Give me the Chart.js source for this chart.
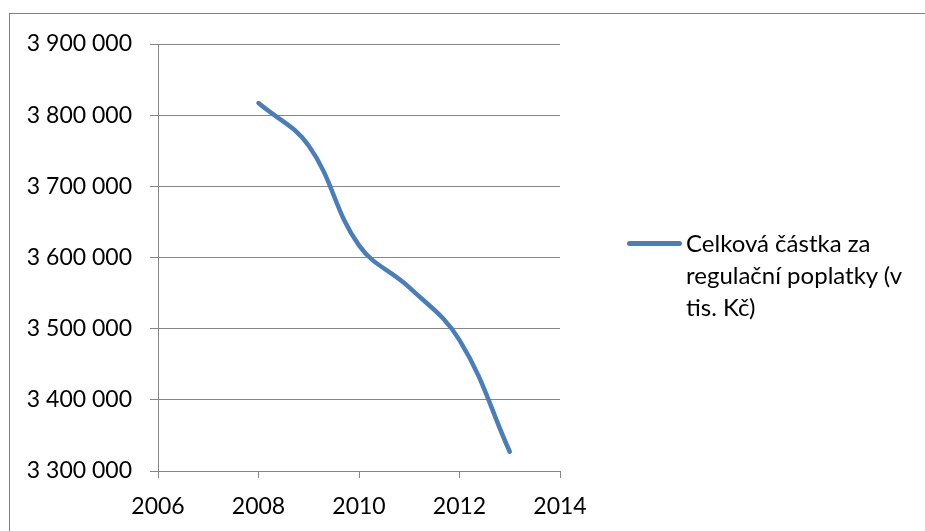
<!DOCTYPE html>
<html lang="cs">
<head>
    <meta charset="UTF-8">
    <title>Regulační poplatky</title>
    <style>
        body {
            margin: 0;
            background: #fff;
            font-family: Lato, sans-serif;
        }

        #wrap {
            position: relative;
            width: 925px;
            height: 531px;
            overflow: hidden;
        }

        #frame {
            position: absolute;
            left: 9px;
            top: 13px;
            width: 1000px;
            height: 1000px;
            border-left: 1px solid #808080;
            border-top: 1px solid #808080;
            box-sizing: border-box;
        }

        #legend {
            position: absolute;
            left: 627px;
            top: 227px;
            font-size: 24px;
            line-height: 32px;
            color: #000;
        }

        #legend .row {
            display: flex;
            align-items: center;
        }

        #legend .swatch {
            width: 55px;
            height: 5px;
            border-radius: 3px;
            margin-right: 4px;
        }

        #legend .indent {
            padding-left: 59px;
        }
    </style>
</head>
<body>
    <div id="wrap">
        <div id="frame"></div>
        <canvas id="feesChart"></canvas>
        <div id="legend"></div>
    </div>

    <script src="https://cdn.jsdelivr.net/npm/chart.js"></script>
    <script>
        // roky a celkové částky (v tis. Kč)
        const years = [2008, 2009, 2010, 2011, 2012, 2013];
        const amounts = [3817000, 3757000, 3617000, 3558000, 3484000, 3327000];
        const legendLines = ['Celková částka za', 'regulační poplatky (v', 'tis. Kč)'];

        const lineColor = '#4a7ebb';
        const gridColor = '#868686';

        // mezera jako oddělovač tisíců
        function formatThousands(value) {
            return value.toString().replace(/\B(?=(\d{3})+(?!\d))/g, ' ');
        }

        const ctx = document.getElementById('feesChart').getContext('2d');

        const feesChart = new Chart(ctx, {
            type: 'line',
            data: {
                datasets: [{
                    label: legendLines.join(' '),
                    data: years.map((year, i) => ({ x: year, y: amounts[i] })),
                    borderColor: lineColor,
                    borderWidth: 4.5,
                    borderCapStyle: 'round',
                    borderJoinStyle: 'round',
                    pointRadius: 0,
                    tension: 0.4,
                    fill: false
                }]
            },
            options: {
                responsive: true,
                maintainAspectRatio: false,
                animation: false,
                layout: {
                    padding: { top: 44, right: 365, bottom: 0, left: 0 }
                },
                plugins: {
                    legend: { display: false },
                    tooltip: { enabled: false }
                },
                scales: {
                    x: {
                        type: 'linear',
                        min: 2006,
                        max: 2014,
                        afterFit: scale => { scale.height = 60; },
                        ticks: {
                            stepSize: 2,
                            color: '#000',
                            padding: 15,
                            font: { family: 'Lato', size: 23 },
                            callback: value => value.toString()
                        },
                        grid: {
                            drawOnChartArea: false,
                            drawTicks: true,
                            tickLength: 7,
                            color: gridColor
                        },
                        border: { color: gridColor, width: 1 }
                    },
                    y: {
                        min: 3300000,
                        max: 3900000,
                        afterFit: scale => { scale.width = 158; },
                        ticks: {
                            stepSize: 100000,
                            color: '#000',
                            padding: 18,
                            font: { family: 'Lato', size: 23 },
                            callback: value => formatThousands(value)
                        },
                        grid: {
                            color: gridColor,
                            lineWidth: 1,
                            tickLength: 8
                        },
                        border: { color: gridColor, width: 1 }
                    }
                }
            }
        });

        // legenda vpravo od grafu
        const legend = document.getElementById('legend');
        legendLines.forEach((text, i) => {
            const row = document.createElement('div');
            if (i === 0) {
                row.className = 'row';
                row.innerHTML = `<span class="swatch" style="background:${lineColor}"></span><span>${text}</span>`;
            } else {
                row.className = 'indent';
                row.textContent = text;
            }
            legend.appendChild(row);
        });
    </script>
</body>
</html>
